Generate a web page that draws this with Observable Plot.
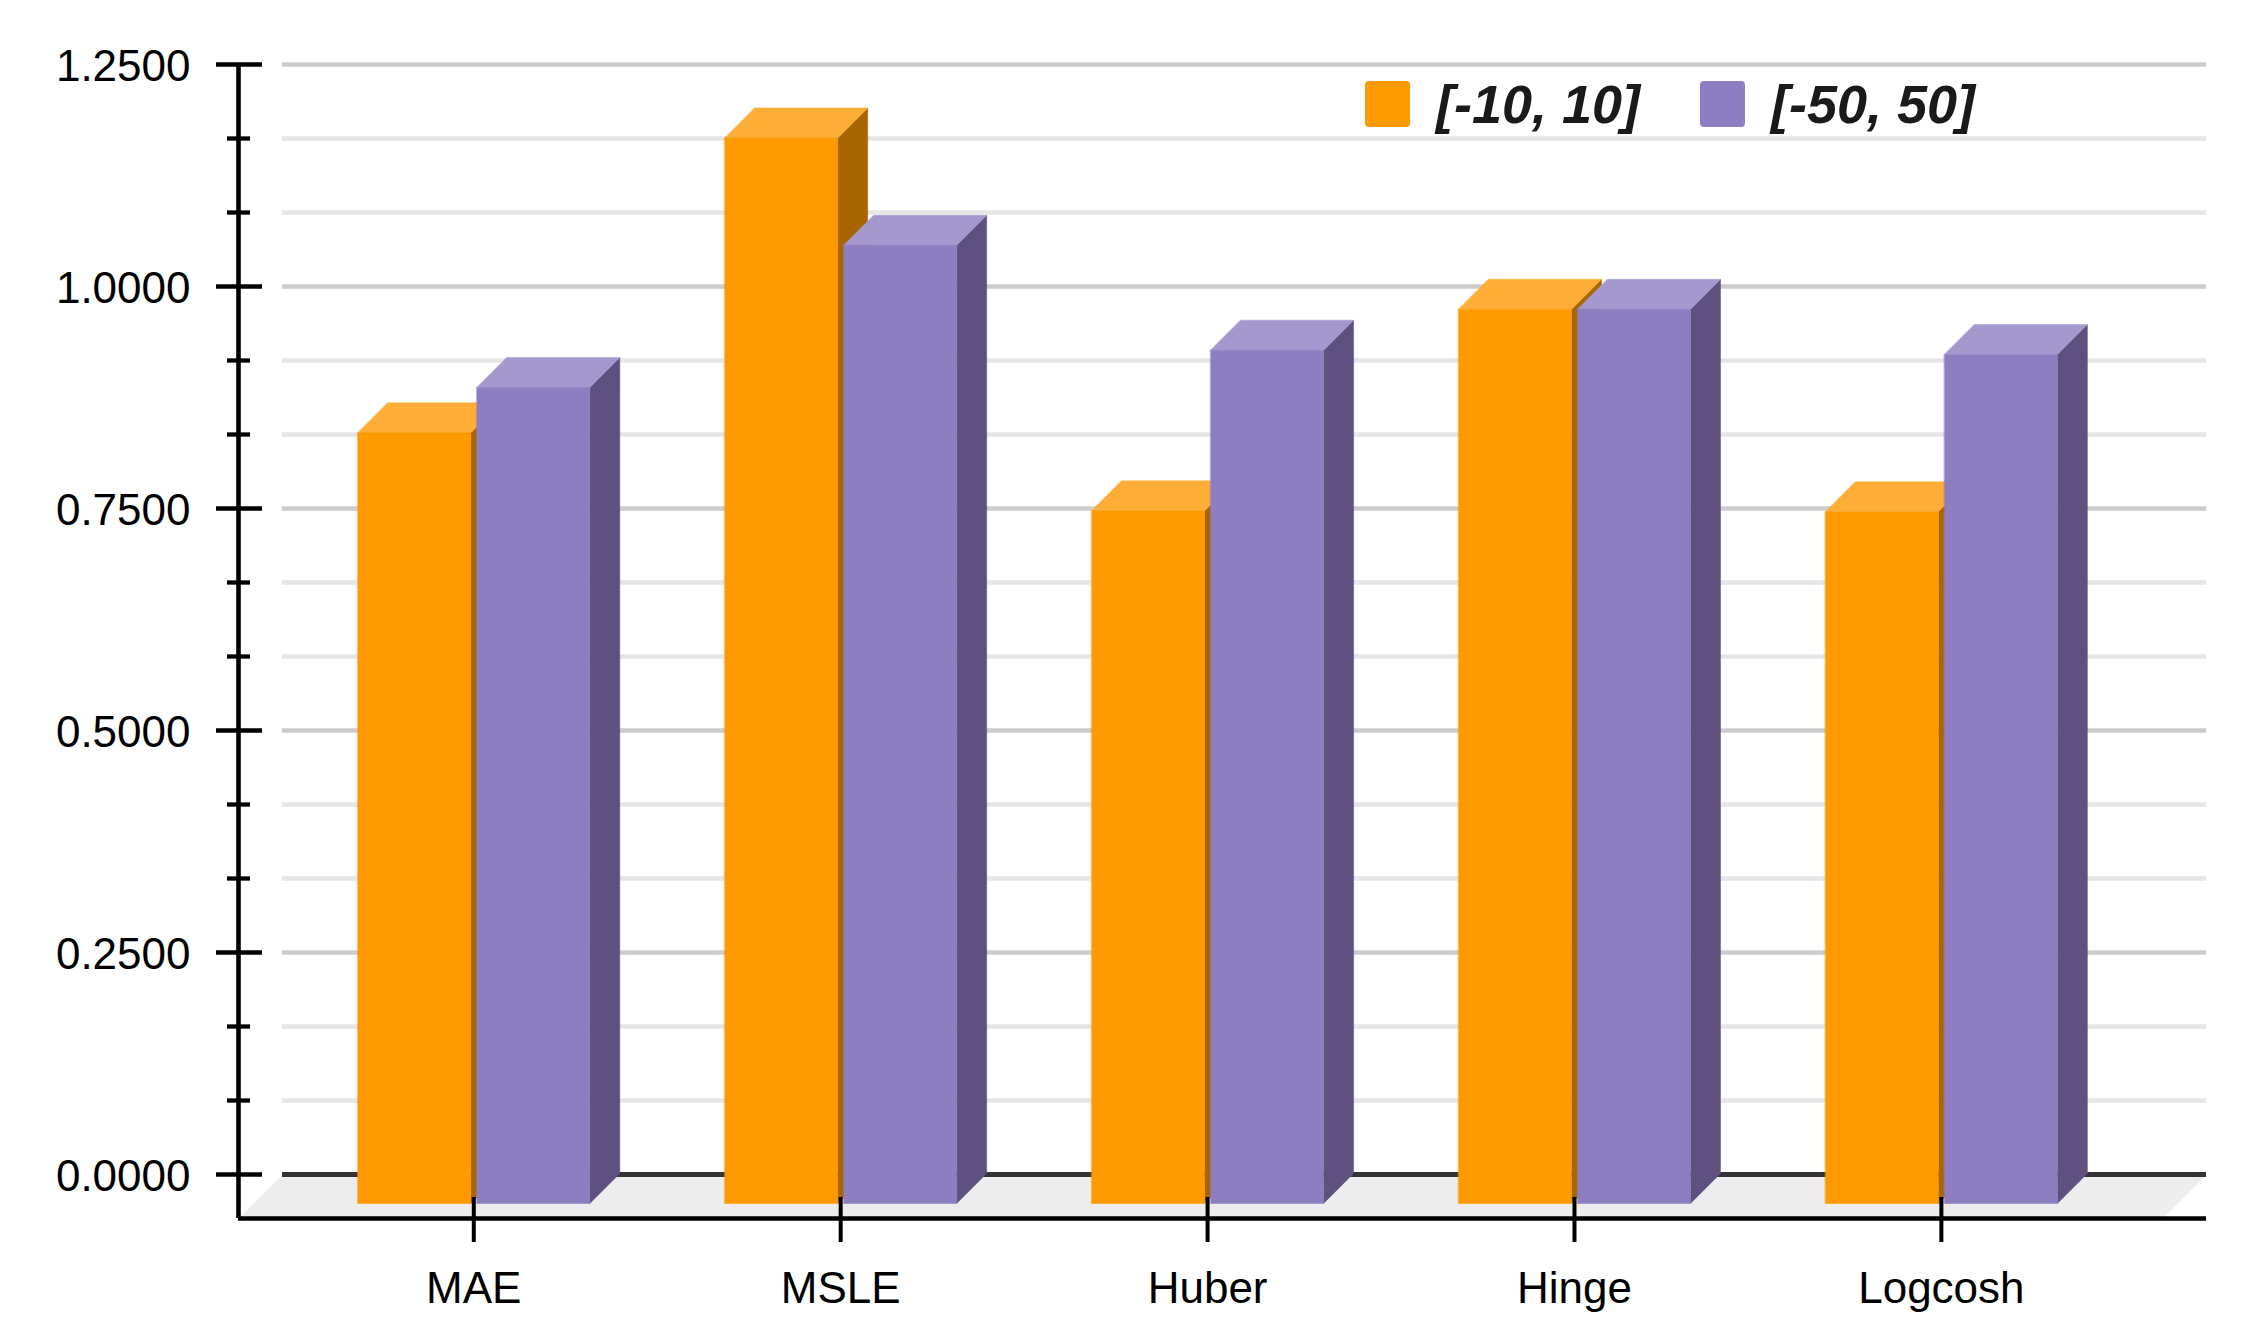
<!DOCTYPE html>
<html><head><meta charset="utf-8">
<script src="https://cdn.jsdelivr.net/npm/d3@7"></script>
<script src="https://cdn.jsdelivr.net/npm/@observablehq/plot@0.6"></script>
<style>
html,body{margin:0;padding:0;background:#fff;}
#wrap{position:relative;width:2242px;height:1340px;font-family:"Liberation Sans",Arial,sans-serif;}
.legend-item{position:absolute;display:flex;align-items:center;height:46px;}
.sw{width:45px;height:46px;border-radius:4px;flex:none;}
.lt{margin-left:26px;font-size:54px;font-weight:bold;font-style:italic;line-height:1;color:#1a1a1a;white-space:nowrap;}
</style></head><body><div id="wrap"></div>
<script>
// ---- data ----
const categories = ["MAE", "MSLE", "Huber", "Hinge", "Logcosh"];
const seriesNames = ["[-10, 10]", "[-50, 50]"];
const range10 = [0.868, 1.200, 0.780, 1.007, 0.779];
const range50 = [0.919, 1.079, 0.961, 1.007, 0.956];
const yTicks = [0, 0.25, 0.5, 0.75, 1.0, 1.25];

// ---- styles ----
const palette = [
  {front: "#fd9a00", top: "#feae36", side: "#a86500"},
  {front: "#8d7ec1", top: "#a598ce", side: "#5e5180"}
];

// ---- layout ----
const W = 2242, H = 1340, mL = 238, mR = 36, mT = 64, mB = 166;
const xDomain = [-0.6413, 4.7226], yDomain = [0, 1.25];
const PX = (xDomain[1] - xDomain[0]) / (W - mL - mR); // x units per pixel
const PY = (yDomain[1] - yDomain[0]) / (H - mT - mB); // y units per pixel
const DEPTH = 30;      // bar depth in px
const FRONT = 29;      // front plane drop in px
const FLOOR = 44;      // floor depth in px
const barSpans = [[-116, -3], [3, 116]];

function facePolys(values, s) {
  const out = {front: [], top: [], side: []};
  values.forEach((v, i) => {
    const xl = i + barSpans[s][0] * PX, xr = i + barSpans[s][1] * PX;
    const dX = DEPTH * PX, dY = DEPTH * PY;
    const fb = -FRONT * PY, ft = v - FRONT * PY;
    const id = categories[i];
    out.front.push(...[[xl, fb], [xr, fb], [xr, ft], [xl, ft]].map(([x, y]) => ({x, y, id})));
    out.top.push(...[[xl, ft], [xr, ft], [xr + dX, ft + dY], [xl + dX, ft + dY]].map(([x, y]) => ({x, y, id})));
    out.side.push(...[[xr, fb], [xr + dX, fb + dY], [xr + dX, ft + dY], [xr, ft]].map(([x, y]) => ({x, y, id})));
  });
  return out;
}

const minorTicks = [];
for (let k = 0; k < yTicks.length - 1; k++) {
  const a = yTicks[k], b = yTicks[k + 1];
  minorTicks.push(a + (b - a) / 3, a + 2 * (b - a) / 3);
}

const x0 = xDomain[0], x1 = xDomain[1];
const floorPoly = [
  {x: x0 + FLOOR * PX, y: 0}, {x: x1, y: 0},
  {x: x1 - FLOOR * PX, y: -FLOOR * PY}, {x: x0, y: -FLOOR * PY}
];

const barMarks = [];
[range10, range50].forEach((vals, s) => {
  const f = facePolys(vals, s);
  for (const face of ["side", "top", "front"]) {
    barMarks.push(Plot.line(f[face], {x: "x", y: "y", z: "id", fill: palette[s][face], stroke: palette[s][face], strokeWidth: 0.5, curve: "linear-closed"}));
  }
});

const chart = Plot.plot({
  width: W, height: H,
  marginLeft: mL, marginRight: mR, marginTop: mT, marginBottom: mB,
  style: {fontFamily: '"Liberation Sans", Arial, sans-serif', background: "#fff"},
  x: {type: "linear", domain: xDomain, axis: null},
  y: {type: "linear", domain: yDomain, axis: null},
  marks: [
    Plot.line(floorPoly, {x: "x", y: "y", fill: "#ededed", stroke: "none", curve: "linear-closed"}),
    Plot.ruleY(minorTicks, {x1: x0 + FLOOR * PX, x2: x1, stroke: "#e6e6e6", strokeWidth: 4.3}),
    Plot.ruleY(yTicks.filter(d => d > 0), {x1: x0 + FLOOR * PX, x2: x1, stroke: "#cccccc", strokeWidth: 4.3}),
    Plot.ruleY([0], {x1: x0 + FLOOR * PX, x2: x1, stroke: "#333333", strokeWidth: 5}),
    ...barMarks,
    // y axis
    Plot.ruleX([x0], {y1: yDomain[1], y2: -FLOOR * PY, stroke: "#000", strokeWidth: 4.6}),
    Plot.ruleY(yTicks, {x1: x0 - 22 * PX, x2: x0 + 24 * PX, stroke: "#000", strokeWidth: 4.3}),
    Plot.ruleY(minorTicks, {x1: x0 - 11 * PX, x2: x0 + 12 * PX, stroke: "#000", strokeWidth: 4.3}),
    Plot.text(yTicks, {x: x0 - 48 * PX, y: d => d, text: d => d3.format(".4f")(d), textAnchor: "end", lineAnchor: "middle", dy: 2.5, fontSize: 44, fill: "#000"}),
    // x axis
    Plot.ruleY([-FLOOR * PY], {x1: x0, x2: x1, stroke: "#000", strokeWidth: 4.4}),
    Plot.ruleX(categories.map((d, i) => i), {y1: -23 * PY, y2: -68 * PY, stroke: "#000", strokeWidth: 4}),
    Plot.text(categories, {x: (d, i) => i, y: -128 * PY, text: d => d, lineAnchor: "bottom", textAnchor: "middle", fontSize: 44, fill: "#000"})
  ]
});

const wrap = document.getElementById("wrap");
wrap.appendChild(chart);

// legend (overlaid inside the plot area, top right)
const legendLeft = [1365, 1700];
seriesNames.forEach((name, s) => {
  const item = document.createElement("div");
  item.className = "legend-item";
  item.style.left = legendLeft[s] + "px";
  item.style.top = "81px";
  const sw = document.createElement("div");
  sw.className = "sw";
  sw.style.background = palette[s].front;
  const t = document.createElement("span");
  t.className = "lt";
  t.textContent = name;
  item.appendChild(sw); item.appendChild(t);
  wrap.appendChild(item);
});
</script></body></html>
